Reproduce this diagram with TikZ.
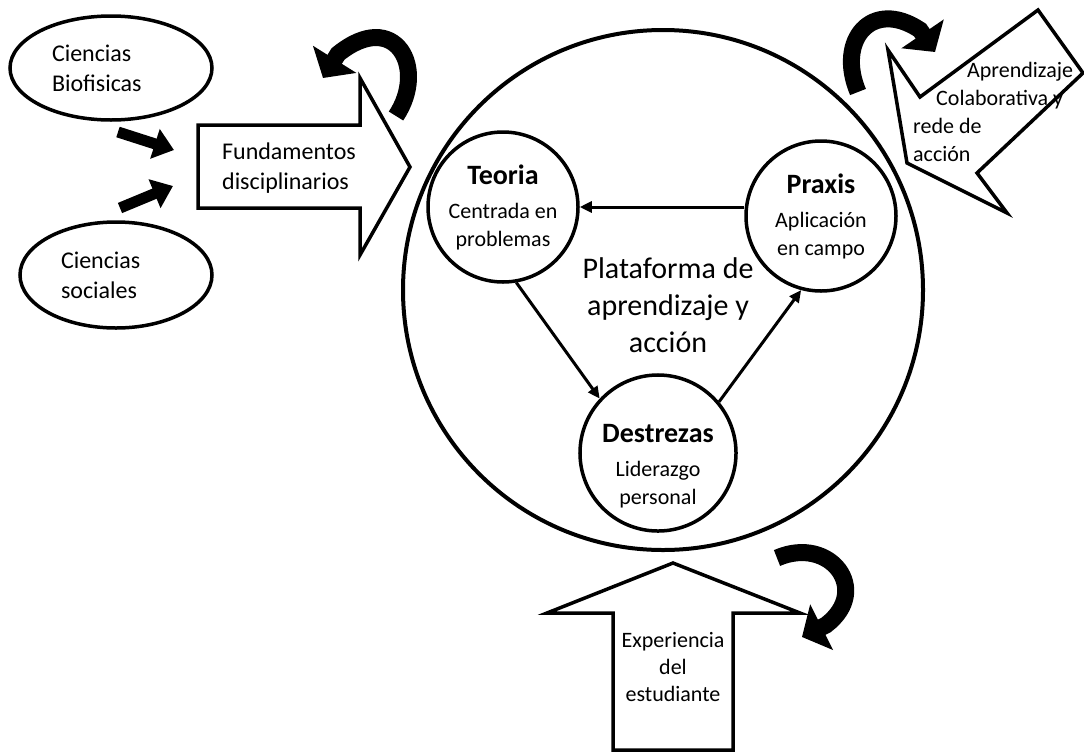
\documentclass[tikz,border=0pt]{standalone}
\usepackage{fontspec}
\setmainfont{Carlito}
\usetikzlibrary{arrows.meta,shapes.geometric}

\newcommand{\ttlfont}{\fontsize{28}{34}\selectfont\bfseries}
\newcommand{\subfnt}{\fontsize{22}{28}\selectfont\mdseries}

\begin{document}
\begin{tikzpicture}[x=1pt,y=-1pt,>={Triangle[length=12pt,width=11pt]},
                    line join=miter]
  \tikzstyle{idea}=[circle,draw,line width=3.5pt,minimum size=150pt,inner sep=0pt,
                    align=center,font=\subfnt]
  \tikzstyle{field}=[ellipse,draw,line width=3.5pt,align=left,inner sep=0pt,
                     font=\fontsize{24}{30}\selectfont]
  \tikzstyle{block}=[draw,line width=3.5pt,fill=white]
  \tikzstyle{feed}=[line width=11pt,-{Triangle[length=20pt,width=30pt]}]
  \tikzstyle{turn}=[line width=17pt,-{Triangle[length=22pt,width=50pt]}]
  \tikzstyle{flow}=[->,line width=3pt]

  \useasboundingbox (0,0) rectangle (1084,753);

  % platform
  \node[circle,draw,line width=4pt,minimum size=520pt] (platform) at (663,290) {};
  \node[font=\fontsize{30}{37}\selectfont,align=center] (platlabel) at (668,305)
       {Plataforma de\\aprendizaje y\\acción};

  \node[idea] (teoria)    at (503,207) {{\ttlfont Teoria}\\[6pt]Centrada en\\problemas};
  \node[idea] (praxis)    at (821,216) {{\ttlfont Praxis}\\[6pt]Aplicación\\en campo};
  \node[idea] (destrezas) at (658,453)
       {{\ttlfont\rule{0pt}{44pt}Destrezas}\\[6pt]Liderazgo\\personal};

  \draw[flow] (praxis.west |- teoria.east) -- (teoria.east);
  \draw[flow] (teoria.-80) -- (destrezas.137);
  \draw[flow] (destrezas.40) -- (praxis.-105);

  % disciplines
  \node[field,minimum width=202pt,minimum height=104pt,text width=118pt] (bio) at (111,68)
       {Ciencias\\Biofisicas};
  \node[field,minimum width=192pt,minimum height=106pt,text width=110pt] (soc) at (116,275)
       {Ciencias\\sociales};

  \draw[block] (198,125) -- (360,125) -- (360,78) -- (410,167) -- (360,255)
               -- (360,208) -- (198,208) -- cycle;
  \node[font=\fontsize{24}{30}\selectfont,align=left] (fund) at (289,168)
       {Fundamentos\\disciplinarios};

  \coordinate (bioout) at (118,132);
  \coordinate (socout) at (120,208);
  \coordinate (fundin1) at (174,150);
  \coordinate (fundin2) at (173,186);
  \draw[feed] (bioout) -- (fundin1);
  \draw[feed] (socout) -- (fundin2);

  % collaborative learning
  \draw[block] (888,50) -- (920,97) -- (1038,10) -- (1083,73) -- (977,173)
               -- (1007,213) -- (907,163) -- cycle;
  \node[font=\fontsize{22}{28}\selectfont,align=left,anchor=north west,inner sep=0pt]
       (colab) at (913,62)
       {\hspace*{54pt}Aprendizaje\\\hspace*{23pt}Colaborativa y\\rede de\\acción};

  % student experience
  \draw[block] (613,750) -- (613,613) -- (547,613) -- (673,563) -- (800,613)
               -- (733,613) -- (733,750) -- cycle;
  \node[font=\fontsize{22}{27}\selectfont,align=center] (exper) at (673,667)
       {Experiencia\\del\\estudiante};

  % turning arrows
  \draw[turn] (396,116) .. controls (428,68) and (395,8) .. (338,54) -- (323,78);
  \draw[turn] (858,92) .. controls (836,40) and (872,-2) .. (920,30) -- (935,52);
  \draw[turn] (777,558) .. controls (830,535) and (872,590) .. (826,625) -- (802,637);

\end{tikzpicture}
\end{document}
